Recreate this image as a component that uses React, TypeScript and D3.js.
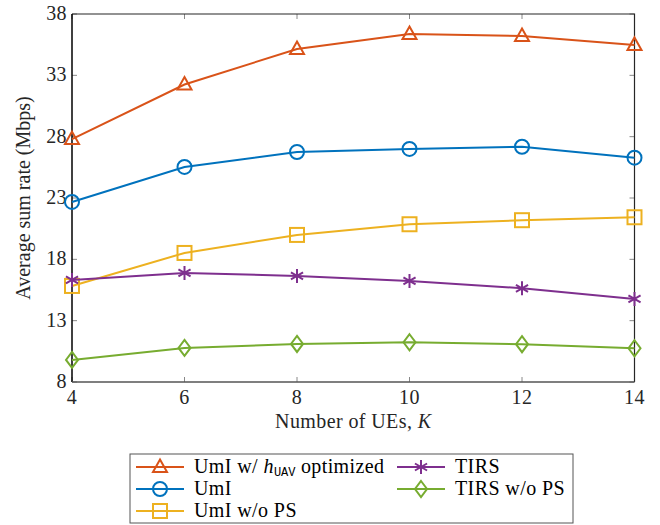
import * as d3 from 'd3';

const users = [4, 6, 8, 10, 12, 14];
const umiOpt = [27.8, 32.25, 35.15, 36.37, 36.2, 35.48];
const umi = [22.68, 25.53, 26.75, 27.0, 27.18, 26.29];
const umiNoPS = [15.83, 18.52, 19.99, 20.86, 21.19, 21.43];
const tirs = [16.32, 16.89, 16.65, 16.24, 15.64, 14.77];
const tirsNoPS = [9.8, 10.78, 11.1, 11.24, 11.08, 10.75];
const yTicks = [8, 13, 18, 23, 28, 33, 38];
const xTicks = [4, 6, 8, 10, 12, 14];

const seriesList = [
  { key: 'opt', label: 'UmI w/ ', values: umiOpt, color: '#D95319', marker: 'triangle', col: 0, row: 0 },
  { key: 'umi', label: 'UmI', values: umi, color: '#0072BD', marker: 'circle', col: 0, row: 1 },
  { key: 'umiNoPS', label: 'UmI w/o PS', values: umiNoPS, color: '#EDB120', marker: 'square', col: 0, row: 2 },
  { key: 'tirs', label: 'TIRS', values: tirs, color: '#7E2F8E', marker: 'star', col: 1, row: 0 },
  { key: 'tirsNoPS', label: 'TIRS w/o PS', values: tirsNoPS, color: '#77AC30', marker: 'diamond', col: 1, row: 1 },
];

const font = "'Liberation Serif'";
const mono = "'Liberation Mono'";
const txt = { fontFamily: font, letterSpacing: 0.4 };

const left = 72, right = 634.5, top = 14, bottom = 382;
const x = d3.scaleLinear().domain([4, 14]).range([left, right]);
const y = d3.scaleLinear().domain([8, 38]).range([bottom, top]);

function Marker({ type, cx, cy, color }: { type: string; cx: number; cy: number; color: string }) {
  const p = { fill: 'none', stroke: color, strokeWidth: 2 };
  if (type === 'circle') return <circle cx={cx} cy={cy} r={7} {...p} />;
  if (type === 'square') return <rect x={cx - 7} y={cy - 7} width={14} height={14} {...p} />;
  if (type === 'triangle')
    return <path d={`M${cx},${cy - 7.5}L${cx + 7},${cy + 5}L${cx - 7},${cy + 5}Z`} {...p} />;
  if (type === 'diamond')
    return <path d={`M${cx},${cy - 8}L${cx + 6},${cy}L${cx},${cy + 8}L${cx - 6},${cy}Z`} {...p} />;
  // star: three crossing strokes
  const r = 7;
  const d = [90, 30, 150].map(a => {
    const t = (a * Math.PI) / 180;
    return `M${cx + r * Math.cos(t)},${cy - r * Math.sin(t)}L${cx - r * Math.cos(t)},${cy + r * Math.sin(t)}`;
  }).join('');
  return <path d={d} {...p} />;
}

export default function App() {
  const line = d3.line<number>().x((_, i) => x(users[i])).y(d => y(d));
  const tickLen = 5;

  return (
    <svg width={660} height={525} style={{ position: 'absolute', left: 0, top: 0, fontFamily: font }}>
      {/* ticks */}
      {xTicks.map(t => (
        <g key={'x' + t}>
          <line x1={x(t)} x2={x(t)} y1={bottom} y2={bottom - tickLen} stroke="#888" />
          <line x1={x(t)} x2={x(t)} y1={top} y2={top + tickLen} stroke="#888" />
          <text x={x(t)} y={bottom + 22} textAnchor="middle" fontSize={20} fill="#262626"
            style={txt}>{t}</text>
        </g>
      ))}
      {yTicks.map(t => (
        <g key={'y' + t}>
          <line x1={left} x2={left + tickLen} y1={y(t)} y2={y(t)} stroke="#888" />
          <line x1={right} x2={right - tickLen} y1={y(t)} y2={y(t)} stroke="#888" />
          <text x={left - 5} y={y(t) + 6} textAnchor="end" fontSize={20} fill="#262626"
            style={txt}>{t}</text>
        </g>
      ))}

      {/* box */}
      <path d={`M${left},${top}L${right},${top}L${right},${bottom}`} fill="none" stroke="#262626" strokeWidth={1.2} />
      <path d={`M${left},${top}L${left},${bottom}`} stroke="#000" strokeWidth={1.5} />
      <path d={`M${left},${bottom}L${right},${bottom}`} stroke="#555" strokeWidth={1.5} />

      {/* series */}
      {seriesList.map(s => (
        <g key={s.key}>
          <path d={line(s.values) || ''} fill="none" stroke={s.color} strokeWidth={2} />
          {s.values.map((v, i) => (
            <Marker key={i} type={s.marker} cx={x(users[i])} cy={y(v)} color={s.color} />
          ))}
        </g>
      ))}

      {/* axis labels */}
      <text x={(left + right) / 2} y={428} textAnchor="middle" fontSize={20} fill="#262626" style={txt}>
        Number of UEs, <tspan fontStyle="italic">K</tspan>
      </text>
      <text transform={`translate(30,${(top + bottom) / 2}) rotate(-90)`} textAnchor="middle"
        fontSize={20} fill="#262626" style={{ fontFamily: font }}>
        Average sum rate (Mbps)
      </text>

      {/* legend */}
      <rect x={130} y={454} width={443} height={69} fill="#fff" stroke="#555" />
      {seriesList.map(s => {
        const x0 = s.col === 0 ? 136 : 397;
        const yy = 467 + s.row * 22;
        return (
          <g key={'leg' + s.key}>
            <line x1={x0} x2={x0 + 48} y1={yy} y2={yy} stroke={s.color} strokeWidth={2} />
            <Marker type={s.marker} cx={x0 + 24} cy={yy} color={s.color} />
            <text x={x0 + 58} y={yy + 6} fontSize={20} fill="#000" style={txt}>
              {s.label}
              {s.key === 'opt' && (
                <>
                  <tspan fontStyle="italic">h</tspan>
                  <tspan dy={3} fontSize={12} style={{ fontFamily: mono, letterSpacing: 0 }}>UAV</tspan>
                  <tspan dy={-3}> optimized</tspan>
                </>
              )}
            </text>
          </g>
        );
      })}
    </svg>
  );
}
